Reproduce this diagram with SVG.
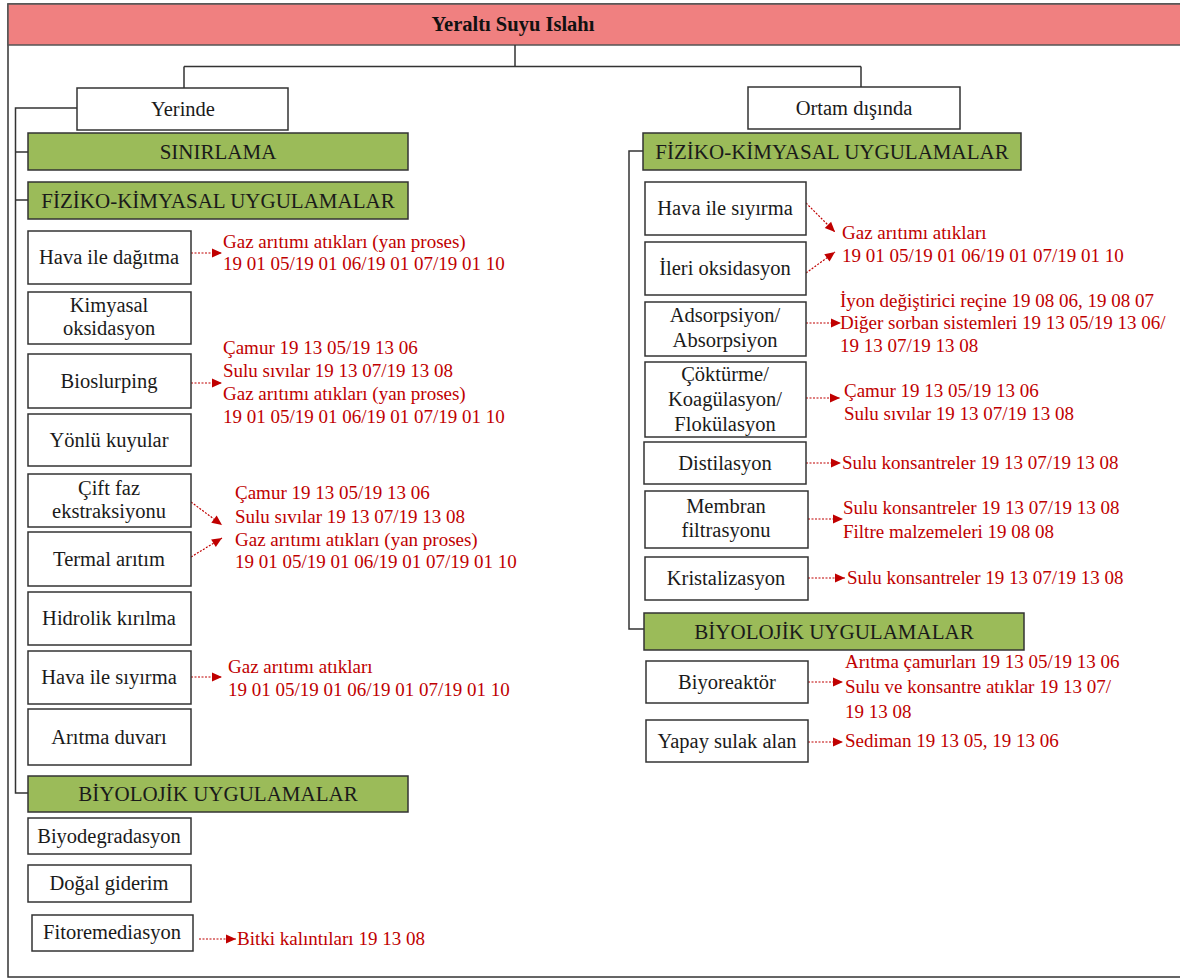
<svg xmlns="http://www.w3.org/2000/svg" width="1180" height="980" viewBox="0 0 1180 980">
<style>
.box{fill:#fff;stroke:#333;stroke-width:1.5}
.grn{fill:#9BBB59;stroke:#333;stroke-width:1.5}
.t{font-family:"Liberation Serif","Times New Roman",serif;font-size:20.5px;fill:#1a1a1a;text-anchor:middle}
.g{font-family:"Liberation Serif","Times New Roman",serif;font-size:21px;fill:#1a1a1a;text-anchor:middle}
.r{font-family:"Liberation Serif","Times New Roman",serif;font-size:19px;fill:#C00000}
.ln{fill:none;stroke:#333;stroke-width:1.5}
.ar{fill:none;stroke:#C00000;stroke-width:1.2;stroke-dasharray:2 1.5}
</style>
<defs>
<marker id="ah" markerUnits="userSpaceOnUse" markerWidth="12" markerHeight="12" viewBox="0 0 12 12" refX="11" refY="6" orient="auto">
<path d="M1,1.5 L11,6 L1,10.5 Z" fill="#C00000"/>
</marker>
</defs>
<rect x="0" y="0" width="1180" height="980" fill="#fff"/>
<rect x="8" y="4" width="1180" height="973" fill="#fff" stroke="#333" stroke-width="1.5"/>

<g id="title">
<rect x="8" y="4" width="1180" height="41" fill="#F08080" stroke="#555" stroke-width="1.5"/>
<text x="513" y="31" font-family="'Liberation Serif','Times New Roman',serif" font-size="20.5" font-weight="bold" fill="#111" text-anchor="middle">Yeraltı Suyu Islahı</text>
</g>

<g id="connectors">
<path class="ln" d="M515,45 V66.5 M184,66.5 H861 M184,66.5 V88 M861,66.5 V87"/>
<path class="ln" d="M77,108 H15.5 V793 H28 M15.5,152 H28 M15.5,200 H28"/>
<path class="ln" d="M643,151 H629 V629 H644"/>
<line class="ar" x1="191" y1="253" x2="222" y2="253" marker-end="url(#ah)"/>
<line class="ar" x1="191" y1="383" x2="222" y2="383" marker-end="url(#ah)"/>
<line class="ar" x1="191" y1="502" x2="222" y2="525" marker-end="url(#ah)"/>
<line class="ar" x1="191" y1="557" x2="222" y2="538" marker-end="url(#ah)"/>
<line class="ar" x1="191" y1="677" x2="222" y2="677" marker-end="url(#ah)"/>
<line class="ar" x1="199" y1="939" x2="236" y2="939" marker-end="url(#ah)"/>
<line class="ar" x1="806" y1="203" x2="835" y2="232" marker-end="url(#ah)"/>
<line class="ar" x1="806" y1="273" x2="835" y2="252" marker-end="url(#ah)"/>
<line class="ar" x1="806" y1="323" x2="841" y2="323" marker-end="url(#ah)"/>
<line class="ar" x1="806" y1="398" x2="840" y2="398" marker-end="url(#ah)"/>
<line class="ar" x1="806" y1="463" x2="841" y2="463" marker-end="url(#ah)"/>
<line class="ar" x1="808" y1="519" x2="843" y2="519" marker-end="url(#ah)"/>
<line class="ar" x1="808" y1="578" x2="845" y2="578" marker-end="url(#ah)"/>
<line class="ar" x1="808" y1="682" x2="843" y2="682" marker-end="url(#ah)"/>
<line class="ar" x1="808" y1="742" x2="843" y2="742" marker-end="url(#ah)"/>
</g>

<g id="yerinde"><rect class="box" x="77" y="88" width="211" height="42"/><text class="t" x="183" y="116">Yerinde</text></g>
<g id="ortam"><rect class="box" x="748" y="87" width="212" height="42"/><text class="t" x="854" y="115">Ortam dışında</text></g>

<g id="l-sinirlama"><rect class="grn" x="28" y="133" width="380" height="37"/><text class="g" x="218" y="159">SINIRLAMA</text></g>
<g id="l-fiziko"><rect class="grn" x="28" y="182" width="380" height="37"/><text class="g" x="218" y="208">FİZİKO-KİMYASAL UYGULAMALAR</text></g>

<g id="l-hava-dagitma"><rect class="box" x="28" y="231" width="163" height="53"/><text class="t" x="109" y="264">Hava ile dağıtma</text></g>
<g id="l-kimyasal"><rect class="box" x="28" y="292" width="163" height="52"/><text class="t" x="109" y="312">Kimyasal</text><text class="t" x="109" y="335">oksidasyon</text></g>
<g id="l-bioslurping"><rect class="box" x="28" y="354" width="163" height="54"/><text class="t" x="109" y="388">Bioslurping</text></g>
<g id="l-yonlu"><rect class="box" x="28" y="414" width="163" height="52"/><text class="t" x="109" y="447">Yönlü kuyular</text></g>
<g id="l-cift"><rect class="box" x="28" y="474" width="163" height="53"/><text class="t" x="109" y="495">Çift faz</text><text class="t" x="109" y="518">ekstraksiyonu</text></g>
<g id="l-termal"><rect class="box" x="28" y="532" width="163" height="54"/><text class="t" x="109" y="566">Termal arıtım</text></g>
<g id="l-hidrolik"><rect class="box" x="28" y="592" width="163" height="53"/><text class="t" x="109" y="625">Hidrolik kırılma</text></g>
<g id="l-hava-siyirma"><rect class="box" x="28" y="651" width="163" height="53"/><text class="t" x="109" y="684">Hava ile sıyırma</text></g>
<g id="l-aritma-duvari"><rect class="box" x="28" y="709" width="163" height="56"/><text class="t" x="109" y="744">Arıtma duvarı</text></g>

<g id="l-biyolojik"><rect class="grn" x="28" y="776" width="380" height="36"/><text class="g" x="218" y="801">BİYOLOJİK UYGULAMALAR</text></g>
<g id="l-biyodeg"><rect class="box" x="28" y="818" width="163" height="36"/><text class="t" x="109" y="843">Biyodegradasyon</text></g>
<g id="l-dogal"><rect class="box" x="28" y="865" width="163" height="37"/><text class="t" x="109" y="890">Doğal giderim</text></g>
<g id="l-fito"><rect class="box" x="32" y="915" width="161" height="36"/><text class="t" x="112" y="939">Fitoremediasyon</text></g>

<g id="l-out1"><text class="r" x="223" y="248">Gaz arıtımı atıkları (yan proses)</text><text class="r" x="223" y="270">19 01 05/19 01 06/19 01 07/19 01 10</text></g>
<g id="l-out2"><text class="r" x="223" y="354">Çamur 19 13 05/19 13 06</text><text class="r" x="223" y="377">Sulu sıvılar 19 13 07/19 13 08</text><text class="r" x="223" y="400">Gaz arıtımı atıkları (yan proses)</text><text class="r" x="223" y="423">19 01 05/19 01 06/19 01 07/19 01 10</text></g>
<g id="l-out3"><text class="r" x="235" y="499">Çamur 19 13 05/19 13 06</text><text class="r" x="235" y="523">Sulu sıvılar 19 13 07/19 13 08</text><text class="r" x="235" y="546">Gaz arıtımı atıkları (yan proses)</text><text class="r" x="235" y="568">19 01 05/19 01 06/19 01 07/19 01 10</text></g>
<g id="l-out4"><text class="r" x="228" y="673">Gaz arıtımı atıkları</text><text class="r" x="228" y="696">19 01 05/19 01 06/19 01 07/19 01 10</text></g>
<g id="l-out5"><text class="r" x="237" y="945">Bitki kalıntıları 19 13 08</text></g>

<g id="r-fiziko"><rect class="grn" x="643" y="133" width="378" height="37"/><text class="g" x="832" y="159">FİZİKO-KİMYASAL UYGULAMALAR</text></g>
<g id="r-hava"><rect class="box" x="645" y="182" width="161" height="53"/><text class="t" x="725" y="215">Hava ile sıyırma</text></g>
<g id="r-ileri"><rect class="box" x="645" y="242" width="161" height="53"/><text class="t" x="725" y="275">İleri oksidasyon</text></g>
<g id="r-adsorp"><rect class="box" x="645" y="302" width="161" height="54"/><text class="t" x="725" y="322">Adsorpsiyon/</text><text class="t" x="725" y="347">Absorpsiyon</text></g>
<g id="r-cokturme"><rect class="box" x="645" y="362" width="161" height="75"/><text class="t" x="725" y="381">Çöktürme/</text><text class="t" x="725" y="406">Koagülasyon/</text><text class="t" x="725" y="431">Flokülasyon</text></g>
<g id="r-distil"><rect class="box" x="644" y="442" width="162" height="42"/><text class="t" x="725" y="470">Distilasyon</text></g>
<g id="r-membran"><rect class="box" x="645" y="491" width="163" height="57"/><text class="t" x="726" y="513">Membran</text><text class="t" x="726" y="537">filtrasyonu</text></g>
<g id="r-kristal"><rect class="box" x="645" y="557" width="163" height="43"/><text class="t" x="726" y="585">Kristalizasyon</text></g>
<g id="r-biyolojik"><rect class="grn" x="644" y="613" width="380" height="37"/><text class="g" x="834" y="639">BİYOLOJİK UYGULAMALAR</text></g>
<g id="r-biyoreaktor"><rect class="box" x="646" y="661" width="162" height="42"/><text class="t" x="727" y="689">Biyoreaktör</text></g>
<g id="r-yapay"><rect class="box" x="646" y="720" width="162" height="42"/><text class="t" x="727" y="748">Yapay sulak alan</text></g>

<g id="r-out1"><text class="r" x="842" y="239">Gaz arıtımı atıkları</text><text class="r" x="842" y="262">19 01 05/19 01 06/19 01 07/19 01 10</text></g>
<g id="r-out2"><text class="r" x="840" y="307">İyon değiştirici reçine 19 08 06, 19 08 07</text><text class="r" x="840" y="329">Diğer sorban sistemleri 19 13 05/19 13 06/</text><text class="r" x="840" y="352">19 13 07/19 13 08</text></g>
<g id="r-out3"><text class="r" x="844" y="397">Çamur 19 13 05/19 13 06</text><text class="r" x="844" y="420">Sulu sıvılar 19 13 07/19 13 08</text></g>
<g id="r-out4"><text class="r" x="842" y="469">Sulu konsantreler 19 13 07/19 13 08</text></g>
<g id="r-out5"><text class="r" x="843" y="514">Sulu konsantreler 19 13 07/19 13 08</text><text class="r" x="843" y="538">Filtre malzemeleri 19 08 08</text></g>
<g id="r-out6"><text class="r" x="847" y="584">Sulu konsantreler 19 13 07/19 13 08</text></g>
<g id="r-out7"><text class="r" x="845" y="668">Arıtma çamurları 19 13 05/19 13 06</text><text class="r" x="845" y="693">Sulu ve konsantre atıklar 19 13 07/</text><text class="r" x="845" y="718">19 13 08</text></g>
<g id="r-out8"><text class="r" x="845" y="747">Sediman 19 13 05, 19 13 06</text></g>
</svg>
